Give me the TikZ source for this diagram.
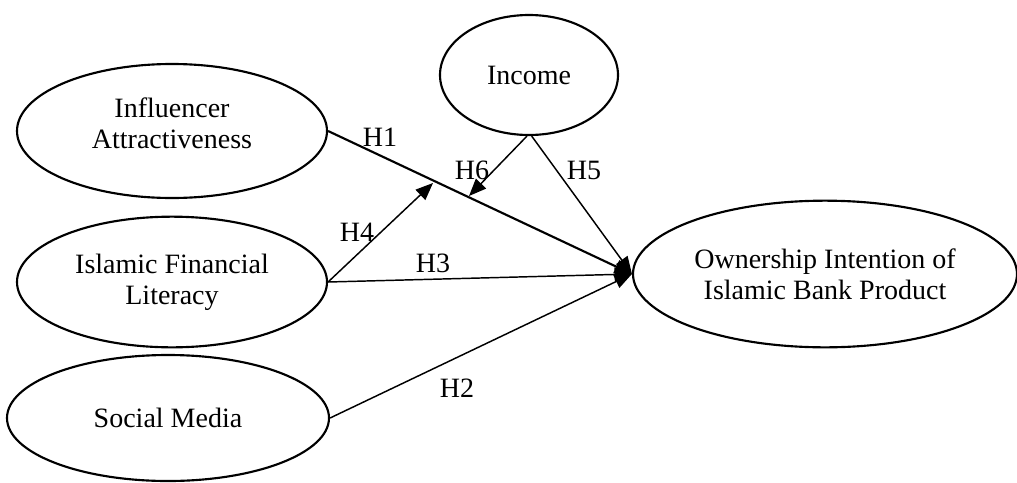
\documentclass[tikz,border=0pt]{standalone}
\usepackage{fontspec}
\setmainfont{Liberation Serif}
\usetikzlibrary{shapes.geometric, arrows.meta}

\begin{document}
\begin{tikzpicture}[x=0.75pt, y=-0.75pt,
    construct/.style={draw, ellipse, line width=1.6pt, inner sep=0pt, align=center,
      font=\fontsize{21}{23.5}\selectfont},
    path/.style={line width=1.1pt, -{Triangle[length=13pt, width=10.5pt]}},
    hyp/.style={font=\fontsize{21}{23.5}\selectfont}]

        \useasboundingbox (0, 0) rectangle (1017, 482);

        \node[construct, minimum width=232.5pt, minimum height=100.5pt] (infl) at (172, 131) {Influencer\\Attractiveness\\[-11.5pt]};
        \node[construct, minimum width=232.5pt, minimum height=98pt] (lit) at (172, 282) {Islamic Financial\\Literacy};
        \node[construct, minimum width=241.5pt, minimum height=94.5pt] (soc) at (168, 418) {Social Media};
        \node[construct, minimum width=133.5pt, minimum height=90pt] (inc) at (529, 75) {Income};
        \node[construct, minimum width=288pt, minimum height=110pt] (own) at (825, 274) {Ownership Intention of\\Islamic Bank Product};

        \coordinate (m4) at (433, 183);
        \coordinate (m6) at (469, 196);

        \draw[path, line width=1.6pt] (infl.east) -- (own.west);
        \draw[path] (lit.east) -- (m4);
        \draw[path] ([xshift=-1.5pt]inc.south) -- (m6);
        \draw[path] ([xshift=2pt]inc.south) -- (own.west);
        \draw[path] (lit.east) -- (own.west);
        \draw[path] (soc.east) -- (own.west);

        \node[hyp] (h1) at (380, 137) {H1};
        \node[hyp] (h6) at (472, 170) {H6};
        \node[hyp] (h5) at (584, 170) {H5};
        \node[hyp] (h4) at (357, 232) {H4};
        \node[hyp] (h3) at (433, 263) {H3};
        \node[hyp] (h2) at (457, 388) {H2};

      \end{tikzpicture}
\end{document}
